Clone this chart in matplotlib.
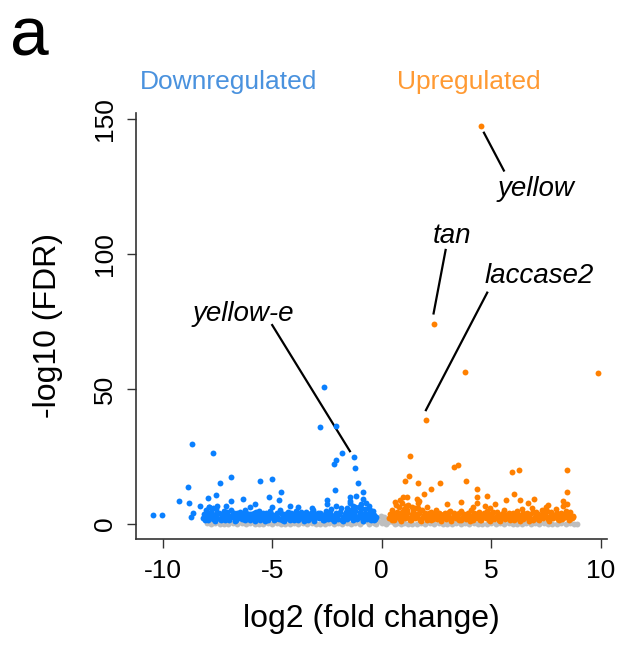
import numpy as np
import matplotlib
matplotlib.use("Agg")
import matplotlib.pyplot as plt

plt.rcParams["font.family"] = ["Liberation Sans", "DejaVu Sans"]
plt.rcParams["axes.unicode_minus"] = False

# downregulated genes: scattered hits (log2 FC, -log10 FDR)
down_hits = [
    (-2.63, 50.9), (-2.80, 35.9), (-2.09, 36.5), (-1.83, 26.4), (-1.28, 24.7),
    (-2.07, 23.7), (-2.19, 22.2), (-1.21, 20.7), (-1.10, 15.2), (-2.15, 12.8),
    (-0.87, 12.0), (-1.45, 9.9), (-1.43, 8.4), (-1.17, 10.5), (-0.85, 9.4),
    (-2.48, 9.1), (-2.51, 7.4), (-2.07, 6.8), (-8.68, 29.5), (-7.70, 26.3),
    (-6.88, 17.5), (-7.40, 15.3), (-8.83, 13.7), (-5.54, 15.8), (-5.00, 16.8),
    (-4.60, 12.0), (-7.55, 10.9), (-7.92, 9.6), (-9.24, 8.6), (-8.81, 7.7),
    (-6.87, 8.4), (-6.32, 9.4), (-5.77, 7.5), (-5.15, 9.9), (-4.69, 9.1),
    (-4.17, 6.6), (-10.43, 3.3), (-10.05, 3.2), (-8.71, 2.5), (-8.62, 4.2),
    (-8.30, 6.8), (-5.01, 6.4), (-0.95, 7.5), (-0.70, 8.0), (-1.05, 6.5),
    (-3.20, 5.8), (-3.80, 6.2), (-6.00, 6.5), (-7.10, 6.9), (-7.90, 6.2),
    (-1.45, 7.7), (-0.60, 6.9), (-1.60, 5.9), (-1.30, 6.8),
]

# downregulated genes: dense band near the bottom
down_band = [
    (-8.15, 2.1), (-8.10, 3.6), (-8.02, 5.1), (-7.95, 1.6), (-7.88, 2.9), (-7.80, 4.4),
    (-7.72, 1.9), (-7.65, 3.3), (-7.58, 5.6), (-7.50, 2.4), (-7.42, 4.0), (-7.35, 1.5),
    (-7.28, 3.0), (-7.20, 4.8), (-7.12, 2.2), (-7.05, 3.7), (-6.97, 1.7), (-6.90, 5.2),
    (-6.82, 2.8), (-6.75, 4.1), (-6.67, 1.6), (-6.60, 3.4), (-6.52, 2.3), (-6.45, 4.6),
    (-6.37, 1.8), (-6.30, 3.1), (-6.22, 5.4), (-6.15, 2.5), (-6.07, 3.9), (-6.00, 1.5),
    (-5.92, 2.9), (-5.85, 4.3), (-5.77, 2.0), (-5.70, 3.5), (-5.62, 5.0), (-5.55, 1.7),
    (-5.47, 2.7), (-5.40, 4.0), (-5.32, 2.2), (-5.25, 3.6), (-5.17, 1.6), (-5.10, 4.7),
    (-5.02, 2.6), (-4.95, 3.3), (-4.87, 1.9), (-4.80, 4.2), (-4.72, 2.4), (-4.65, 5.3),
    (-4.57, 1.6), (-4.50, 3.0), (-4.42, 3.9), (-4.35, 2.1), (-4.27, 4.5), (-4.20, 1.7),
    (-4.12, 2.9), (-4.05, 3.7), (-3.97, 2.3), (-3.90, 5.0), (-3.82, 1.6), (-3.75, 3.2),
    (-3.67, 4.1), (-3.60, 2.0), (-3.52, 2.8), (-3.45, 4.6), (-3.37, 1.7), (-3.30, 3.4),
    (-3.22, 2.4), (-3.15, 5.2), (-3.07, 1.9), (-3.00, 3.0), (-2.92, 4.3), (-2.85, 2.2),
    (-2.77, 3.6), (-2.70, 1.6), (-2.62, 2.7), (-2.55, 4.8), (-2.47, 2.0), (-2.40, 3.3),
    (-2.32, 5.5), (-2.25, 1.8), (-2.17, 2.9), (-2.10, 4.0), (-2.02, 2.3), (-1.95, 3.7),
    (-1.87, 5.9), (-1.80, 1.7), (-1.72, 2.6), (-1.65, 4.4), (-1.57, 2.0), (-1.50, 3.3),
    (-1.42, 5.1), (-1.35, 2.4), (-1.27, 3.9), (-1.20, 6.2), (-1.12, 1.8), (-1.05, 3.0),
    (-0.97, 4.6), (-0.90, 2.2), (-0.82, 3.5), (-0.75, 5.6), (-0.67, 1.9), (-0.60, 2.8),
    (-0.52, 4.2), (-0.45, 2.4), (-0.37, 3.3), (-0.30, 1.9), (-0.25, 2.6),
    (-8.05, 1.4), (-7.60, 1.3), (-7.15, 1.4), (-6.70, 1.2), (-6.25, 1.4), (-5.80, 1.3),
    (-5.35, 1.3), (-4.90, 1.4), (-4.45, 1.2), (-4.00, 1.4), (-3.55, 1.3), (-3.10, 1.3),
    (-2.65, 1.4), (-2.20, 1.2), (-1.75, 1.3), (-1.30, 1.4), (-0.85, 1.3), (-0.50, 1.5),
    (-0.35, 1.4), (-7.90, 6.4), (-7.70, 6.0), (-7.50, 6.6), (-0.95, 5.8), (-0.55, 5.2),
    (-0.40, 4.8),
    (-8.08, 2.6), (-7.98, 4.0), (-7.85, 2.2), (-7.75, 3.6), (-7.62, 2.5), (-7.52, 4.3),
    (-7.40, 2.0), (-7.30, 3.7), (-7.18, 2.7), (-7.08, 4.4), (-6.95, 2.4), (-6.85, 3.5),
    (-6.72, 2.1), (-6.62, 4.2), (-6.50, 2.9), (-6.40, 3.8), (-6.28, 2.0), (-6.18, 4.0),
    (-6.05, 2.7), (-5.95, 3.6), (-5.82, 2.4), (-5.72, 4.4), (-5.60, 2.1), (-5.50, 3.9),
    (-5.38, 2.9), (-5.28, 4.3), (-5.15, 2.3), (-5.05, 3.8), (-4.92, 2.6), (-4.82, 3.3),
    (-4.70, 2.0), (-4.60, 4.0), (-4.48, 2.5), (-4.38, 3.5), (-4.25, 2.0), (-4.15, 4.3),
    (-4.02, 2.8), (-3.92, 3.6), (-3.80, 2.3), (-3.70, 4.4), (-3.57, 2.6), (-3.47, 3.7),
    (-3.35, 2.2), (-3.25, 4.0), (-3.12, 2.9), (-3.02, 3.9), (-2.90, 2.6), (-2.80, 4.2),
    (-2.67, 2.1), (-2.57, 3.5), (-2.45, 2.7), (-2.35, 4.1), (-2.22, 2.5), (-2.12, 3.4),
    (-2.00, 2.0), (-1.90, 4.4), (-1.77, 2.8), (-1.67, 3.6), (-1.55, 2.5), (-1.45, 4.2),
    (-1.32, 2.9), (-1.22, 4.8), (-1.10, 2.6), (-1.00, 3.8), (-0.87, 2.9), (-0.77, 4.3),
    (-0.65, 3.4), (-0.55, 2.0), (-0.42, 3.8), (-0.32, 2.7),
]

# upregulated genes: scattered hits
up_hits = [
    (4.52, 147.5), (2.37, 74.0), (3.80, 56.4), (9.86, 55.8), (2.02, 38.4),
    (1.31, 25.1), (3.32, 21.2), (3.47, 21.9), (5.94, 19.4), (6.25, 20.0),
    (8.48, 20.2), (1.26, 17.7), (1.08, 15.8), (1.64, 15.3), (2.65, 15.4),
    (2.27, 13.0), (3.85, 16.0), (4.37, 12.9), (1.95, 11.0), (4.79, 10.6),
    (4.35, 10.1), (8.48, 11.9), (6.06, 11.2), (1.72, 8.6), (5.69, 9.1),
    (6.32, 9.1), (6.96, 9.3), (4.34, 7.9), (0.99, 10.1), (6.68, 8.0),
    (8.29, 8.5), (8.72, 2.8), (5.16, 7.3), (0.82, 9.1), (1.16, 10.1),
    (1.60, 9.3), (1.66, 8.0), (2.07, 6.2), (4.15, 6.2), (4.95, 5.8),
    (4.72, 6.7), (0.60, 8.3), (3.00, 7.5), (3.60, 8.3), (7.60, 7.0),
]

# upregulated genes: dense band near the bottom
up_band = [
    (0.35, 2.1), (0.40, 3.6), (0.47, 5.1), (0.55, 1.6), (0.62, 2.9), (0.70, 4.4),
    (0.77, 6.3), (0.85, 1.9), (0.92, 3.3), (1.00, 5.6), (1.07, 2.4), (1.15, 4.0),
    (1.22, 7.0), (1.30, 1.5), (1.37, 3.0), (1.45, 4.8), (1.52, 2.2), (1.60, 3.7),
    (1.67, 6.0), (1.75, 1.7), (1.82, 5.2), (1.90, 2.8), (1.97, 4.1), (2.05, 1.6),
    (2.12, 3.4), (2.20, 2.3), (2.27, 4.6), (2.35, 1.8), (2.42, 3.1), (2.50, 5.4),
    (2.57, 2.5), (2.65, 3.9), (2.72, 1.5), (2.80, 2.9), (2.87, 4.3), (2.95, 2.0),
    (3.02, 3.5), (3.10, 5.0), (3.17, 1.7), (3.25, 2.7), (3.32, 4.0), (3.40, 2.2),
    (3.47, 3.6), (3.55, 1.6), (3.62, 4.7), (3.70, 2.6), (3.77, 3.3), (3.85, 1.9),
    (3.92, 4.2), (4.00, 2.4), (4.07, 5.3), (4.15, 1.6), (4.22, 3.0), (4.30, 3.9),
    (4.37, 2.1), (4.45, 4.5), (4.52, 1.7), (4.60, 2.9), (4.67, 3.7), (4.75, 2.3),
    (4.82, 5.0), (4.90, 1.6), (4.97, 3.2), (5.05, 4.1), (5.12, 2.0), (5.20, 2.8),
    (5.27, 4.6), (5.35, 1.7), (5.42, 3.4), (5.50, 2.4), (5.57, 5.2), (5.65, 1.9),
    (5.72, 3.0), (5.80, 4.3), (5.87, 2.2), (5.95, 3.6), (6.02, 1.6), (6.10, 2.7),
    (6.17, 4.8), (6.25, 2.0), (6.32, 3.3), (6.40, 5.5), (6.47, 1.8), (6.55, 2.9),
    (6.62, 4.0), (6.70, 2.3), (6.77, 3.7), (6.85, 5.9), (6.92, 1.7), (7.00, 2.6),
    (7.07, 4.4), (7.15, 2.0), (7.22, 3.3), (7.30, 5.1), (7.37, 2.4), (7.45, 3.9),
    (7.52, 6.2), (7.60, 1.8), (7.67, 3.0), (7.75, 4.6), (7.82, 2.2), (7.90, 3.5),
    (7.97, 5.6), (8.05, 1.9), (8.12, 2.8), (8.20, 4.2), (8.27, 2.4), (8.35, 3.3),
    (8.42, 5.0), (8.50, 2.6), (8.57, 3.8), (8.65, 2.1), (8.72, 3.0),
    (0.45, 1.4), (0.90, 1.3), (1.35, 1.4), (1.80, 1.2), (2.25, 1.4), (2.70, 1.3),
    (3.15, 1.3), (3.60, 1.4), (4.05, 1.2), (4.50, 1.4), (4.95, 1.3), (5.40, 1.3),
    (5.85, 1.4), (6.30, 1.2), (6.75, 1.3), (7.20, 1.4), (7.65, 1.3), (8.10, 1.5),
    (8.55, 1.4), (0.65, 7.2), (0.95, 8.0), (1.10, 6.6), (1.40, 6.4), (8.30, 6.8),
    (8.45, 7.4),
    (0.42, 2.7), (0.52, 4.1), (0.60, 2.2), (0.72, 3.6), (0.82, 2.5), (0.95, 4.6),
    (1.05, 2.9), (1.17, 5.2), (1.27, 2.3), (1.40, 3.8), (1.50, 5.8), (1.62, 2.6),
    (1.72, 4.3), (1.85, 2.1), (1.95, 3.5), (2.07, 2.8), (2.17, 4.0), (2.30, 2.6),
    (2.40, 3.8), (2.52, 2.0), (2.62, 4.3), (2.75, 2.7), (2.85, 3.6), (2.97, 2.4),
    (3.07, 4.4), (3.20, 2.1), (3.30, 3.9), (3.42, 2.9), (3.52, 4.3), (3.65, 2.3),
    (3.75, 3.8), (3.87, 2.6), (3.97, 3.3), (4.10, 2.0), (4.20, 4.0), (4.32, 2.5),
    (4.42, 3.5), (4.55, 2.0), (4.65, 4.3), (4.77, 2.8), (4.87, 3.6), (5.00, 2.3),
    (5.10, 4.4), (5.22, 2.6), (5.32, 3.7), (5.45, 2.2), (5.55, 4.0), (5.67, 2.9),
    (5.77, 3.9), (5.90, 2.6), (6.00, 4.2), (6.12, 2.1), (6.22, 3.5), (6.35, 2.7),
    (6.45, 4.1), (6.57, 2.5), (6.67, 3.4), (6.80, 2.0), (6.90, 4.4), (7.02, 2.8),
    (7.12, 3.6), (7.25, 2.5), (7.35, 4.2), (7.47, 2.9), (7.57, 4.8), (7.70, 2.6),
    (7.80, 3.8), (7.92, 2.9), (8.02, 4.3), (8.15, 3.4), (8.25, 2.0), (8.37, 3.8),
    (8.47, 2.7), (8.60, 4.5), (8.70, 2.4),
]

# non-significant genes
grey_pts = [
    (-8.0, 0.3), (-7.6, 0.5), (-7.2, 0.2), (-6.8, 0.6), (-6.4, 0.3), (-6.0, 0.5),
    (-5.6, 0.2), (-5.2, 0.6), (-4.8, 0.4), (-4.4, 0.1), (-4.0, 0.5), (-3.6, 0.3),
    (-3.2, 0.6), (-2.8, 0.2), (-2.4, 0.5), (-2.0, 0.3), (-1.6, 0.6), (-1.2, 0.4),
    (-0.9, 0.8), (-0.7, 1.0), (-0.5, 1.2), (-0.35, 0.6), (-0.3, 1.8), (-0.2, 2.4),
    (-0.15, 1.2), (-0.05, 3.0), (0.0, 0.5), (0.05, 1.9), (0.1, 2.6), (0.15, 1.1),
    (0.22, 2.0), (0.28, 0.7), (0.32, 1.5), (0.5, 0.7), (0.7, 0.4), (1.0, 0.6),
    (1.4, 0.2), (1.8, 0.5), (2.2, 0.3), (2.6, 0.6), (3.0, 0.2), (3.4, 0.5),
    (3.8, 0.3), (4.2, 0.6), (4.6, 0.2), (5.0, 0.5), (5.4, 0.3), (5.8, 0.6),
    (6.2, 0.2), (6.6, 0.5), (7.0, 0.3), (7.4, 0.6), (7.8, 0.2), (8.2, 0.4),
    (8.6, 0.3), (8.9, 0.2),
    (-7.8, 0.0), (-7.4, 0.1), (-7.0, 0.0), (-6.6, 0.1), (-6.2, 0.0), (-5.8, 0.1),
    (-5.4, 0.0), (-5.0, 0.1), (-4.6, 0.0), (-4.2, 0.2), (-3.8, 0.0), (-3.4, 0.1),
    (-3.0, 0.0), (-2.6, 0.1), (-2.2, 0.0), (-1.8, 0.1), (-1.4, 0.0), (-1.0, 0.1),
    (-0.6, 0.0), (-0.25, 0.1), (0.2, 0.0), (0.6, 0.1), (0.9, 0.0), (1.2, 0.1),
    (1.6, 0.0), (2.0, 0.1), (2.4, 0.0), (2.8, 0.1), (3.2, 0.0), (3.6, 0.1),
    (4.0, 0.0), (4.4, 0.1), (4.8, 0.0), (5.2, 0.1), (5.6, 0.0), (6.0, 0.1),
    (6.4, 0.0), (6.8, 0.1), (7.2, 0.0), (7.6, 0.1), (8.0, 0.0), (8.4, 0.1),
    (8.8, 0.0),
]

blue = "#0A80FF"
orange = "#FF8000"
grey = "#BEBEBE"
msize = 18

fig = plt.figure(figsize=(6.18, 6.45), dpi=100)
ax = fig.add_axes([136 / 618, 1 - 539 / 645, 471 / 618, 426 / 645])

g = np.array(grey_pts)
ax.scatter(g[:, 0], g[:, 1], s=msize, c=grey, linewidths=0, zorder=2)
for pts, col in [(down_band, blue), (down_hits, blue), (up_band, orange), (up_hits, orange)]:
    a = np.array(pts)
    ax.scatter(a[:, 0], a[:, 1], s=msize, c=col, linewidths=0, zorder=3)

# gene labels with leader lines
lab_kw = dict(fontsize=20, style="italic", va="baseline", ha="left")
ax.text(5.31, 121.5, "yellow", **lab_kw)
ax.plot([4.67, 5.58], [144.9, 130.9], color="black", lw=1.6)
ax.text(2.35, 104.1, "tan", **lab_kw)
ax.plot([2.92, 2.37], [101.5, 78.0], color="black", lw=1.6)
ax.text(4.72, 89.4, "laccase2", **lab_kw)
ax.plot([4.82, 2.02], [85.7, 42.2], color="black", lw=1.6)
ax.text(-8.62, 75.3, "yellow-e", **lab_kw)
ax.plot([-5.0, -1.45], [73.7, 27.0], color="black", lw=1.6)

ax.set_xlim(-11.22, 10.29)
ax.set_ylim(-5.5, 152.2)
ax.set_xticks([-10, -5, 0, 5, 10])
ax.set_yticks([0, 50, 100, 150])
for side in ["top", "right"]:
    ax.spines[side].set_visible(False)
for side in ["left", "bottom"]:
    ax.spines[side].set_linewidth(1.2)
    ax.spines[side].set_color("#333333")
ax.tick_params(direction="out", length=6.5, width=1, color="#333333", labelsize=19)
ax.tick_params(axis="x", pad=8)
ax.tick_params(axis="y", pad=7)
for t in ax.get_yticklabels():
    t.set_rotation(90)
    t.set_va("center")

ax.set_xlabel("log2 (fold change)", fontsize=23)
ax.set_ylabel("-log10 (FDR)", fontsize=23)
ax.xaxis.set_label_coords(0.5, -0.153)
ax.yaxis.set_label_coords(-0.155, 0.5)

fig.text(10 / 618, 1 - 55 / 645, "a", fontsize=50, va="baseline")
fig.text(140 / 618, 1 - 89 / 645, "Downregulated", fontsize=19, color="#4A92DE", va="baseline")
fig.text(397 / 618, 1 - 89 / 645, "Upregulated", fontsize=19, color="#FF9A33", va="baseline")

fig.savefig("out.png", dpi=100)
